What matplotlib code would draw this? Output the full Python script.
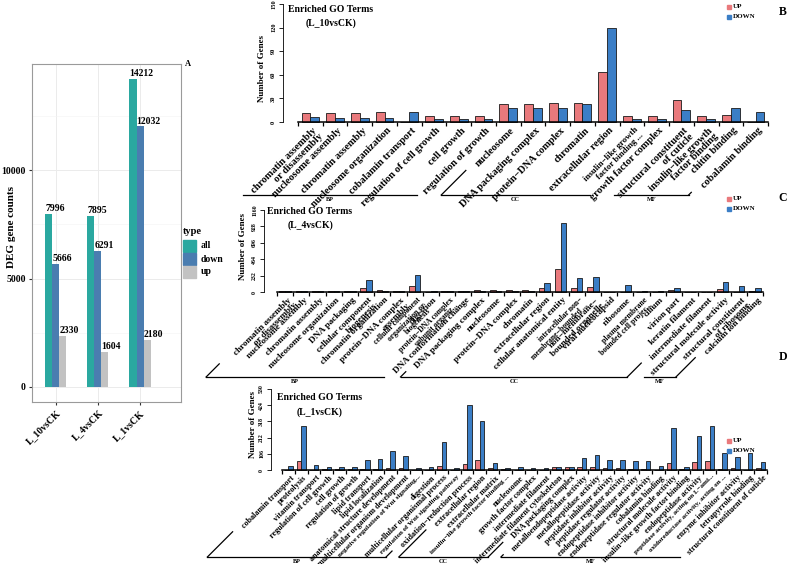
import numpy as np
import matplotlib
matplotlib.use('Agg')
import matplotlib.pyplot as plt
import matplotlib.transforms as mtransforms
from matplotlib.lines import Line2D
from matplotlib.patches import Rectangle

plt.rcParams['font.family'] = ['Liberation Serif', 'DejaVu Serif']
plt.rcParams['font.weight'] = 'bold'

# ---------------- data ----------------
comparisons = ['L_10vsCK', 'L_4vsCK', 'L_1vsCK']
deg_all = [7996, 7895, 14212]
deg_down = [5666, 6291, 12032]
deg_up = [2330, 1604, 2180]

b_terms = ['chromatin assembly\nor disassembly', 'nucleosome assembly', 'chromatin assembly',
           'nucleosome organization', 'cobalamin transport', 'regulation of cell growth',
           'cell growth', 'regulation of growth',
           'nucleosome', 'DNA packaging complex', 'protein\u2212DNA complex', 'chromatin',
           'extracellular region', 'insulin\u2212like growth\nfactor binding ...', 'growth factor complex',
           'structural constituent\nof cuticle', 'insulin\u2212like growth\nfactor binding',
           'chitin binding', 'cobalamin binding']
b_cats = ['BP'] * 8 + ['CC'] * 7 + ['MF'] * 4
b_up = [12, 12, 12, 13, 0, 8, 8, 8, 23, 23, 24, 24, 63, 8, 8, 28, 8, 9, 0]
b_down = [6, 5, 5, 5, 13, 4, 4, 4, 18, 18, 18, 23, 120, 4, 4, 15, 4, 18, 13]

c_terms = ['chromatin assembly\nor disassembly', 'nucleosome assembly', 'chromatin assembly',
           'nucleosome organization', 'DNA packaging', 'cellular component\nbiogenesis',
           'chromatin organization', 'protein\u2212DNA complex\nassembly',
           'cellular component\norganization or\nbiogenesis', 'digestion',
           'protein\u2212DNA complex\nsubunit organiz...', 'DNA conformation change',
           'DNA packaging complex', 'nucleosome', 'protein\u2212DNA complex', 'chromatin',
           'extracellular region', 'cellular anatomical entity',
           'intracellular non\u2212\nmembrane\u2212bounded ...', 'non\u2212membrane\u2212\nbounded organelle',
           'viral nucleocapsid', 'ribosome', 'plasma membrane\nbounded cell projec...',
           'cilium', 'virion part', 'keratin filament', 'intermediate filament',
           'structural molecule activity', 'structural constituent\nof ribosome',
           'calcium ion binding']
c_cats = ['BP'] * 12 + ['CC'] * 15 + ['MF'] * 3
c_up = [19, 19, 19, 19, 19, 57, 24, 19, 90, 5, 19, 19, 33, 33, 28, 24, 57, 322, 61, 66,
        5, 5, 5, 5, 24, 2, 2, 38, 5, 19]
c_down = [9, 9, 9, 9, 9, 175, 14, 9, 241, 9, 9, 9, 14, 14, 9, 9, 123, 974, 203, 208,
          2, 95, 9, 9, 61, 2, 2, 142, 80, 52]

d_terms = ['cobalamin transport', 'proteolysis', 'vitamin transport', 'regulation of cell growth',
           'cell growth', 'regulation of growth', 'lipid transport', 'lipid localization',
           'anatomical structure development', 'multicellular organism development',
           'negative regulation of Wnt signaling...', 'digestion',
           'multicellular organismal process', 'regulation of Wnt signaling pathway',
           'oxidation\u2212reduction process',
           'extracellular region', 'extracellular matrix', 'insulin\u2212like growth factor binding ...',
           'nucleosome', 'growth factor complex', 'intermediate filament',
           'intermediate filament cytoskeleton', 'DNA packaging complex',
           'metalloendopeptidase activity', 'metallopeptidase activity',
           'peptidase inhibitor activity', 'peptidase regulator activity',
           'endopeptidase inhibitor activity', 'endopeptidase regulator activity',
           'cobalamin binding', 'structural molecule activity',
           'insulin\u2212like growth factor binding', 'endopeptidase activity',
           'peptidase activity, acting on L\u2212ami...', 'oxidoreductase activity, acting on ...',
           'enzyme inhibitor activity', 'tetrapyrrole binding', 'structural constituent of cuticle']
d_cats = ['BP'] * 15 + ['CC'] * 8 + ['MF'] * 15
d_up = [0, 58, 0, 5, 5, 5, 5, 5, 15, 12, 0, 0, 25, 0, 37,
        68, 12, 5, 0, 0, 0, 20, 20,
        20, 20, 15, 15, 7, 7, 0, 49, 7, 51, 61, 7, 12, 3, 15]
d_down = [27, 290, 30, 20, 20, 20, 64, 69, 125, 90, 12, 20, 184, 12, 424,
          320, 48, 14, 17, 12, 12, 22, 22,
          80, 98, 64, 64, 56, 56, 27, 277, 17, 223, 289, 110, 86, 113, 51]

W, H = 787, 564
RED = '#E9797C'
BLUE = '#3B7EC6'

fig = plt.figure(figsize=(W / 100, H / 100), dpi=100)


def box(l, t, r, b):
    return [l / W, 1 - b / H, (r - l) / W, (b - t) / H]


def ftext(x, y, s, **kw):
    return fig.text(x / W, 1 - y / H, s, **kw)


# ---------------- panel A ----------------
axA = fig.add_axes(box(32, 64, 181, 402))
xa = np.arange(len(comparisons))
wa = 1 / 6
for k, (vals, col) in enumerate([(deg_all, '#2AA8A0'), (deg_down, '#4A7DB0'), (deg_up, '#C2C2C2')]):
    axA.bar(xa + (k - 1) * wa, vals, wa, color=col, zorder=3)
    for xi, v in zip(xa, vals):
        axA.text(xi + (k - 1) * wa - wa / 2, v + 40, str(v), ha='left', va='bottom',
                 fontsize=7, fontweight='bold', zorder=4)
axA.set_xlim(-0.571, 2.976)
axA.set_ylim(-710, 14922)
axA.set_yticks([0, 5000, 10000])
axA.set_yticks([2500, 7500, 12500], minor=True)
axA.set_xticks(xa)
axA.set_xticklabels(comparisons, rotation=45, ha='right', rotation_mode='anchor', fontsize=7)
axA.tick_params(axis='y', labelsize=7, length=2.5, color='#333333', pad=2)
axA.tick_params(axis='x', length=2.5, color='#333333', pad=2)
axA.tick_params(which='minor', length=0)
axA.grid(which='major', color='#EBEBEB', lw=0.7)
axA.grid(which='minor', axis='y', color='#F3F3F3', lw=0.4)
axA.set_axisbelow(True)
for s in axA.spines.values():
    s.set_color('#9A9A9A')
    s.set_linewidth(0.8)
ftext(12, 227, 'DEG gene counts', rotation=90, ha='center', va='center', fontsize=8)
ftext(188, 64, 'A', ha='center', va='center', fontsize=6)

# legend A
ftext(183, 232, 'type', ha='left', va='center', fontsize=7.5)
for j, (lab, col) in enumerate([('all', '#2AA8A0'), ('down', '#4A7DB0'), ('up', '#C2C2C2')]):
    yc = 246 + j * 13
    fig.add_artist(Rectangle((183 / W, 1 - (yc + 6) / H), 13 / W, 12 / H,
                             transform=fig.transFigure, color=col))
    ftext(201, yc, lab, ha='left', va='center', fontsize=7)


# ---------------- GO panels ----------------
def go_panel(left, right, top, bottom, x0px, terms, cats, up, down, ymax, yticks,
             title, tsize, brk_y, letter, letter_y, leg_y, ylab_pos, title_pos, ticksize):
    n = len(terms)
    step = (right - x0px) / n
    ax = fig.add_axes(box(left, top, right, bottom))
    ax.patch.set_alpha(0)
    pad = (x0px - left) / step
    ax.set_xlim(-0.5 - pad, n - 0.5)
    ax.set_ylim(0, ymax)
    x = np.arange(n)
    bw = 0.357
    ax.bar(x - bw / 2, up, bw, color=RED, edgecolor='#1a1a1a', lw=0.6, clip_on=False)
    ax.bar(x + bw / 2, down, bw, color=BLUE, edgecolor='#1a1a1a', lw=0.6, clip_on=False)
    for s in ['top', 'right']:
        ax.spines[s].set_visible(False)
    ax.spines['bottom'].set_bounds(-0.5, n - 0.5)
    ax.spines['bottom'].set_linewidth(1.1)
    ax.spines['left'].set_bounds(0, ymax)
    ax.spines['left'].set_linewidth(0.6)
    ax.set_xticks(np.arange(n + 1) - 0.5)
    ax.set_xticklabels([])
    ax.tick_params(axis='x', length=3, width=0.9)
    ax.set_yticks(yticks)
    ax.set_yticklabels([str(t) for t in yticks], rotation=90, va='center', fontsize=ticksize)
    ax.tick_params(axis='y', length=3, width=0.6, pad=2)
    ftext(ylab_pos[0], ylab_pos[1], 'Number of Genes', rotation=90, ha='center', va='center',
          fontsize=6.5)
    ftext(title_pos[0], title_pos[1], 'Enriched GO Terms', ha='center', va='center', fontsize=7)
    ftext(title_pos[0], title_pos[1] + 14, title, ha='center', va='center', fontsize=7)
    ftext(783, letter_y, letter, ha='center', va='center', fontsize=8.5)
    # legend
    for j, (lab, col) in enumerate([('UP', RED), ('DOWN', BLUE)]):
        yy = 1 - (leg_y + j * 9.5) / H
        fig.add_artist(Line2D([729 / W], [yy], marker='s', ms=2.8, color=col, lw=0,
                              transform=fig.transFigure))
        fig.text(733 / W, yy, lab, ha='left', va='center', fontsize=5)

    trans = mtransforms.offset_copy(ax.get_xaxis_transform(), fig=fig, x=2, y=-4, units='dots')
    texts = []
    for i, t in enumerate(terms):
        fs = tsize * 0.85 if len(t) > 34 else tsize
        texts.append(ax.text(i, 0, t, transform=trans, rotation=45, rotation_mode='anchor',
                             ha='right', va='top', fontsize=fs, multialignment='right',
                             linespacing=0.9))
    return ax, trans, texts, cats, brk_y


panels = []
panels.append(go_panel(283, 768, 4, 122, 298, b_terms, b_cats, b_up, b_down, 150,
                       [0, 30, 60, 90, 120, 150], '(L_10vsCK)', 7.4, 195, 'B', 12, 7,
                       (262, 68), (331, 9), 4.6))
panels.append(go_panel(264, 763, 210, 292, 277, c_terms, c_cats, c_up, c_down, 1160,
                       [0, 232, 464, 696, 928, 1160], '(L_4vsCK)', 6.6, 377, 'C', 198, 199,
                       (243, 247), (310, 211), 4.2))
panels.append(go_panel(271, 767, 389, 470, 282, d_terms, d_cats, d_up, d_down, 530,
                       [0, 106, 212, 318, 424, 530], '(L_1vsCK)', 5.9, 557, 'D', 357, 441,
                       (253, 425), (320, 398), 4.2))

# category brackets under the rotated labels
fig.canvas.draw()
rend = fig.canvas.get_renderer()
for ax, trans, texts, cats, brk_y in panels:
    yb = H - brk_y
    order = []
    for c in cats:
        if c not in order:
            order.append(c)
    for c in order:
        idx = [i for i, cc in enumerate(cats) if cc == c]
        ends = []
        for i in (idx[0], idx[-1]):
            xa_, ya_ = trans.transform((i, 0))
            bb = texts[i].get_window_extent(rend)
            ytop = bb.y0 - 2
            xb = xa_ - (ya_ - yb)
            if ytop > yb:
                xt = xa_ - (ya_ - ytop)
                fig.add_artist(Line2D([xb / W, xt / W], [yb / H, ytop / H], color='black',
                                      lw=0.9, transform=fig.transFigure))
            ends.append(xb)
        fig.add_artist(Line2D([ends[0] / W, ends[1] / W], [yb / H, yb / H], color='black',
                              lw=0.9, transform=fig.transFigure))
        fig.text((ends[0] + ends[1]) / 2 / W, (yb - 2) / H, c, ha='center', va='top',
                 fontsize=4.5)

fig.savefig('out.png', dpi=100)
